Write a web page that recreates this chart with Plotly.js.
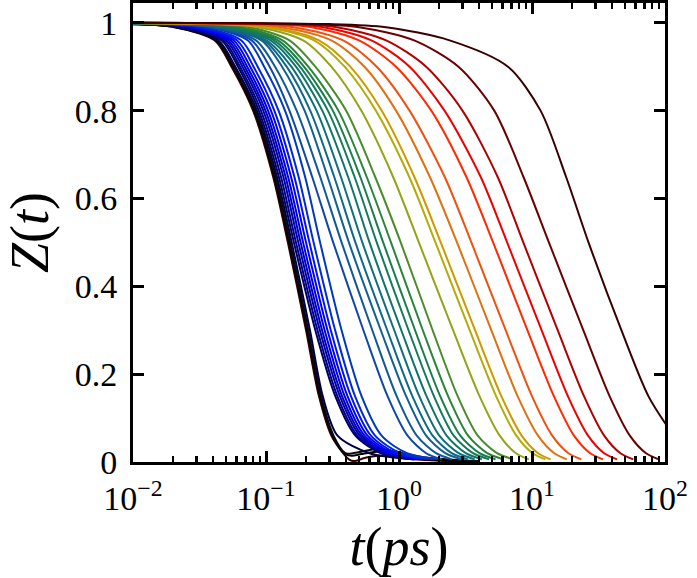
<!DOCTYPE html>
<html><head><meta charset="utf-8">
<script src="https://cdn.plot.ly/plotly-3.0.1.min.js"></script>
<style>html,body{margin:0;padding:0;background:#fff}</style>
</head><body><div id="chart" style="width:697px;height:578px"></div>
<script>
// Z(t) levels shared by all curves
const zLevels = [1.0, 0.997, 0.99, 0.96, 0.9, 0.8, 0.65, 0.5, 0.3, 0.15, 0.06, 0.02, 0.006];

// time (ps) at which each curve reaches each Z level (fastest -> slowest)
const curveT = [
  [0.001, 0.0096, 0.0204, 0.041, 0.055, 0.080, 0.113, 0.146, 0.200, 0.250, 0.310, 0.380, 0.420],
  [0.001, 0.0098, 0.0209, 0.0419, 0.0562, 0.0817, 0.1153, 0.149, 0.204, 0.255, 0.316, 0.387, null],
  [0.001, 0.010, 0.0213, 0.0427, 0.0573, 0.0833, 0.1176, 0.152, 0.208, 0.260, 0.322, 0.395, null],
  [0.001, 0.0103, 0.0218, 0.0438, 0.0588, 0.0855, 0.1207, 0.156, 0.214, 0.267, 0.345, 0.60, 1.3],
  [0.001, 0.0113, 0.0235, 0.0462, 0.0616, 0.0883, 0.1247, 0.162, 0.235, 0.332, 0.470, 0.73, 1.3],
  [0.001, 0.0118, 0.0244, 0.0479, 0.0638, 0.0916, 0.1294, 0.168, 0.244, 0.344, 0.487, 0.756, 1.34],
  [0.001, 0.0123, 0.0254, 0.0499, 0.0665, 0.0954, 0.1348, 0.175, 0.254, 0.359, 0.508, 0.79, 1.4],
  [0.001, 0.0127, 0.0264, 0.0519, 0.0692, 0.0992, 0.1401, 0.182, 0.264, 0.373, 0.528, 0.82, 1.46],
  [0.001, 0.0133, 0.0276, 0.0542, 0.0722, 0.1036, 0.1463, 0.190, 0.276, 0.39, 0.551, 0.855, 1.52],
  [0.001, 0.014, 0.029, 0.057, 0.076, 0.109, 0.154, 0.200, 0.29, 0.41, 0.58, 0.9, 1.6],
  [0.001, 0.0148, 0.0307, 0.0604, 0.0806, 0.1155, 0.1632, 0.212, 0.307, 0.435, 0.615, 0.954, 1.7],
  [0.001, 0.016, 0.0331, 0.065, 0.0866, 0.1243, 0.1756, 0.228, 0.331, 0.467, 0.661, 1.03, 1.82],
  [0.001, 0.0179, 0.037, 0.0727, 0.0969, 0.139, 0.1964, 0.255, 0.37, 0.523, 0.74, 1.15, 2.04],
  [0.001, 0.018, 0.038, 0.078, 0.1065, 0.15, 0.222, 0.32, 0.54, 0.82, 1.16, 1.6, 2.1],
  [0.001, 0.019, 0.04, 0.084, 0.117, 0.17, 0.255, 0.37, 0.63, 0.96, 1.36, 1.9, 2.5],
  [0.001, 0.02, 0.042, 0.0924, 0.132, 0.195, 0.29, 0.42, 0.73, 1.13, 1.60, 2.23, 2.94],
  [0.001, 0.021, 0.044, 0.0964, 0.143, 0.215, 0.325, 0.47, 0.816, 1.26, 1.79, 2.49, 3.29],
  [0.001, 0.022, 0.046, 0.1007, 0.155, 0.24, 0.365, 0.53, 0.921, 1.42, 2.01, 2.81, 3.71],
  [0.001, 0.024, 0.05, 0.108, 0.168, 0.265, 0.413, 0.60, 1.04, 1.61, 2.28, 3.18, 4.2],
  [0.001, 0.026, 0.055, 0.115, 0.18, 0.292, 0.462, 0.68, 1.18, 1.83, 2.58, 3.6, 4.76],
  [0.001, 0.028, 0.06, 0.123, 0.193, 0.318, 0.51, 0.76, 1.32, 2.04, 2.89, 4.03, 5.32],
  [0.001, 0.03, 0.066, 0.133, 0.208, 0.35, 0.57, 0.87, 1.51, 2.34, 3.31, 4.61, 6.09],
  [0.001, 0.034, 0.075, 0.15, 0.235, 0.4, 0.66, 1.03, 1.79, 2.76, 3.91, 5.46, 7.21],
  [0.001, 0.04, 0.088, 0.19, 0.31, 0.52, 0.9, 1.41, 2.55, 4.03, 5.72, 7.57, 9.46],
  [0.001, 0.046, 0.1, 0.23, 0.39, 0.67, 1.19, 1.88, 3.40, 5.37, 7.63, 10.1, 12.6],
  [0.001, 0.05, 0.11, 0.25, 0.43, 0.74, 1.3, 2.06, 3.73, 5.88, 8.36, 11.1, 13.8],
  [0.001, 0.06, 0.13, 0.31, 0.55, 0.95, 1.7, 2.73, 4.94, 7.79, 11.1, 14.7, 18.3],
  [0.001, 0.075, 0.16, 0.38, 0.68, 1.2, 2.2, 3.5, 6.34, 9.99, 14.2, 18.8, 23.5],
  [0.001, 0.1, 0.22, 0.5, 0.95, 1.75, 3.2, 5.1, 9.23, 14.6, 20.7, 27.4, 34.2],
  [0.001, 0.12, 0.27, 0.62, 1.2, 2.2, 4.1, 6.5, 11.8, 18.6, 26.4, 34.9, 43.6],
  [0.001, 0.15, 0.34, 0.8, 1.6, 3.0, 5.5, 8.6, 15.6, 24.6, 34.9, 46.2, 57.7],
  [0.001, 0.2, 0.5, 1.3, 2.8, 5.2, 8.6, 13.4, 24.3, 38.3, 54.4, 72, 90],
  [0.001, 0.3, 0.8, 2.4, 6.6, 11.6, 18.0, 26.6, 47, 75, 116, null, null]
];

const curveColors = [
  '#3a0000', '#000000', '#0a0a14', '#000040', '#000066', '#00008a', '#0000aa', '#0000c8',
  '#0000e6', '#0000ff', '#0014f0', '#0028dc', '#0038c0', '#1048a8', '#105898', '#106090',
  '#106888', '#0f6f7a', '#10746a', '#137a5a', '#1a7e4a', '#2a843a', '#4a8c2a', '#94a418',
  '#b4ac08', '#cc9a00', '#e07010', '#f05010', '#ff2a00', '#ee0000', '#b00000', '#6a0000', '#380000'
];

// late-time tails with the small bump for the fastest curves
const tailCurve = [0, 1, 2];
const tailT = [
  [0.46, 0.55, 0.7, 0.9, 1.3, 2, 4],
  [0.44, 0.52, 0.65, 0.8, 1.1, 1.6, 2.5, 4],
  [0.45, 0.53, 0.65, 0.8, 1.1, 1.6, 2.5, 4]
];
const tailZ = [
  [0.002, 0.009, 0.014, 0.012, 0.006, 0.003, 0.001],
  [0.014, 0.018, 0.023, 0.022, 0.015, 0.007, 0.003, 0.001],
  [0.02, 0.024, 0.029, 0.028, 0.019, 0.01, 0.005, 0.002]
];

const xTickVals = [0.01, 0.1, 1, 10, 100];
const xTickText = ['10<sup>\u22122</sup>', '10<sup>\u22121</sup>', '10<sup>0</sup>', '10<sup>1</sup>', '10<sup>2</sup>'];

const traces = curveT.map((row, i) => {
  const x = [], y = [];
  row.forEach((t, j) => { if (t !== null) { x.push(t); y.push(zLevels[j]); } });
  const k = tailCurve.indexOf(i);
  if (k >= 0) { tailT[k].forEach((t, j) => { x.push(t); y.push(tailZ[k][j]); }); }
  return {x, y, type: 'scatter', mode: 'lines', hoverinfo: 'skip',
          line: {color: curveColors[i], width: 2, shape: 'spline', smoothing: 0.8}};
});

const serif = 'Liberation Serif, Times New Roman, serif';
const axisCommon = {
  ticks: 'inside', tickwidth: 3, ticklen: 11, tickcolor: '#000',
  showline: true, linewidth: 3, linecolor: '#000', mirror: 'ticks',
  showgrid: false, zeroline: false,
  tickfont: {family: serif, size: 34, color: '#000'}
};

const layout = {
  width: 697, height: 578,
  margin: {l: 133, r: 32, t: 3, b: 116},
  paper_bgcolor: '#fff', plot_bgcolor: '#fff',
  showlegend: false,
  xaxis: Object.assign({}, axisCommon, {
    type: 'log', range: [-2, 2], tickmode: 'array', tickvals: xTickVals, ticktext: xTickText,
    ticklabelstandoff: 4,
    minor: {ticks: 'inside', ticklen: 6, tickwidth: 2.5, tickcolor: '#000', dtick: 'D1', showgrid: false},
    title: {text: '<i>t</i>(<i>ps</i>)', font: {family: serif, size: 54, color: '#000'}, standoff: 8}
  }),
  yaxis: Object.assign({}, axisCommon, {
    range: [0, 1.045], tick0: 0, dtick: 0.2, ticklabelstandoff: 6,
    title: {text: '<i>Z</i>(<i>t</i>)', font: {family: serif, size: 54, color: '#000'}, standoff: 10}
  })
};

Plotly.newPlot('chart', traces, layout, {staticPlot: true, displayModeBar: false});
</script>
</body></html>
